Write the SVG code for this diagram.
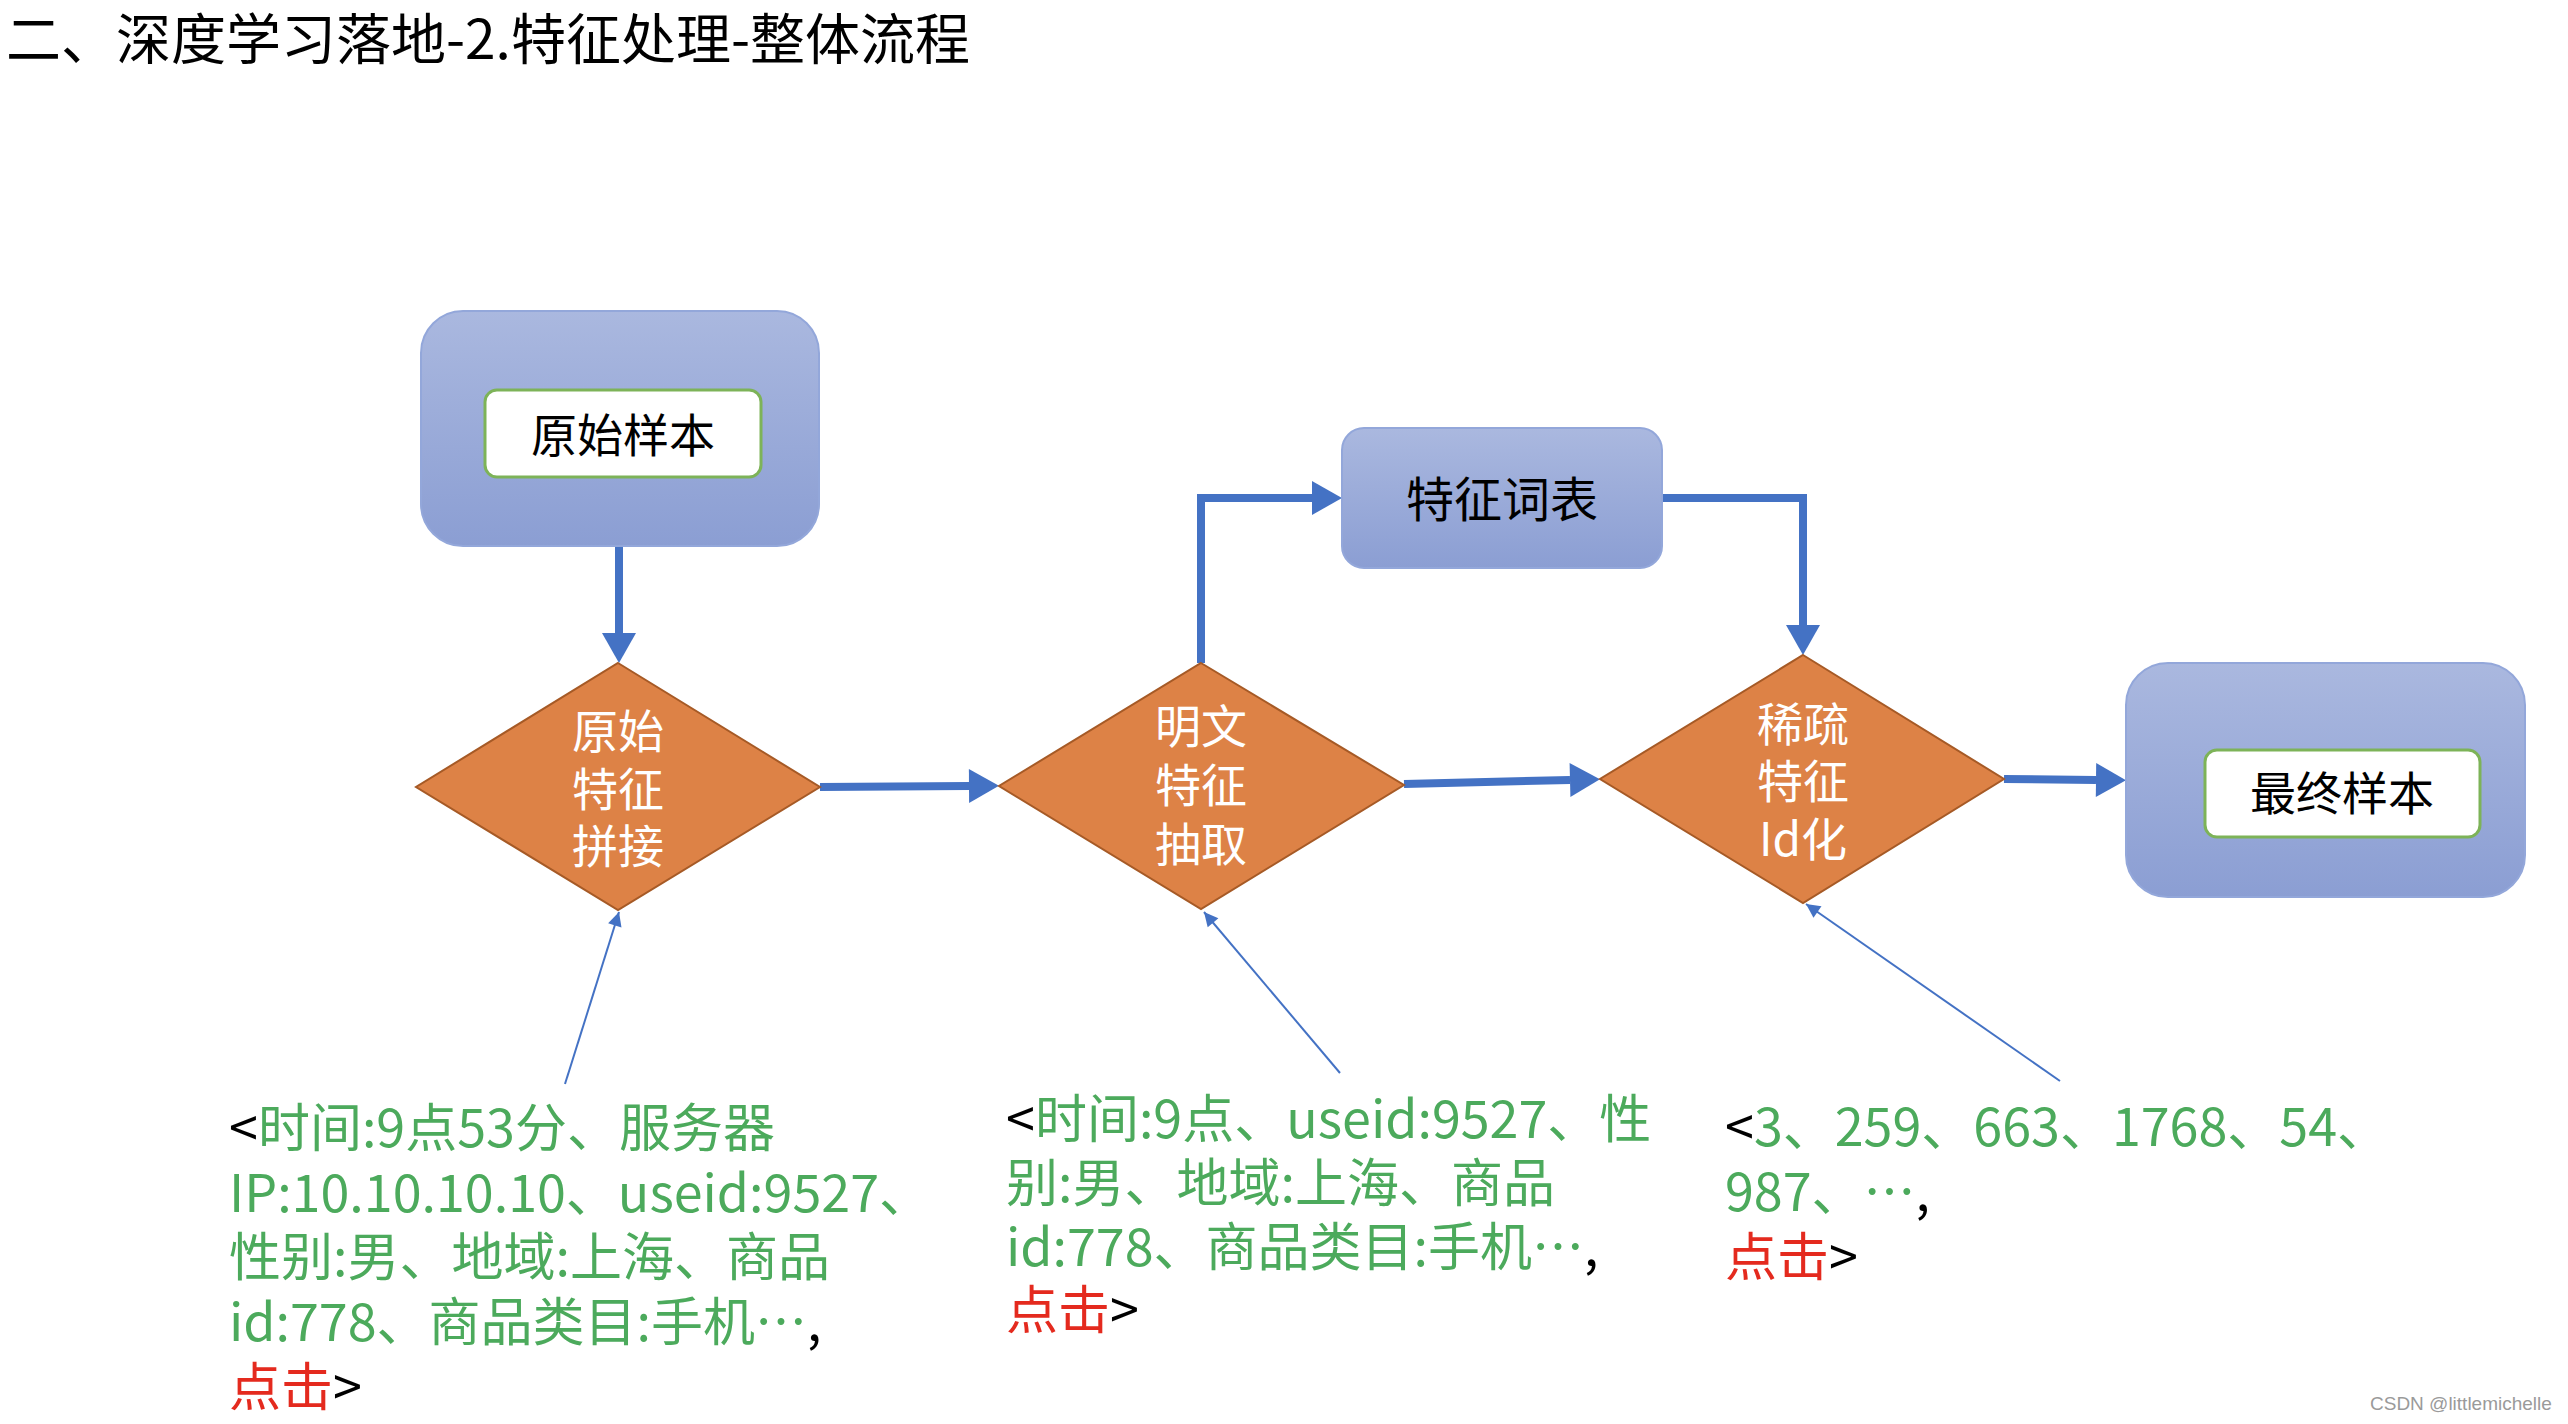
<svg xmlns="http://www.w3.org/2000/svg" width="2568" height="1424" viewBox="0 0 2568 1424">
<style>
text{font-family:"Noto Sans CJK SC","Noto Sans",sans-serif;}
.title{font-size:55px;fill:#000;}
.box{fill:url(#blueGrad);stroke:#93A7DA;stroke-width:2;}
.inner{fill:#fff;stroke:#7DB358;stroke-width:3;}
.dia{fill:#DD8246;stroke:#A65A26;stroke-width:2;}
.lbl{font-size:46px;fill:#000;text-anchor:middle;}
.dlbl{font-size:46px;fill:#fff;text-anchor:middle;}
.thick{fill:none;stroke:#4472C4;stroke-width:8;marker-end:url(#bigArrow);}
.thin{fill:none;stroke:#4472C4;stroke-width:2;marker-end:url(#smallArrow);}
.note{font-size:52px;fill:#000;}
.g{fill:#4CAA5C;}
.r{fill:#E42A1E;}
.wm{font-family:"Liberation Sans",Arial,sans-serif;font-size:19px;fill:#9A9A9A;}
</style>
<defs>
<linearGradient id="blueGrad" x1="0" y1="0" x2="0" y2="1">
<stop offset="0" stop-color="#AAB8DF"/>
<stop offset="1" stop-color="#8B9ED3"/>
</linearGradient>
<marker id="bigArrow" markerUnits="userSpaceOnUse" markerWidth="32" markerHeight="34" refX="0" refY="17" orient="auto" overflow="visible">
<path d="M0,0 L30,17 L0,34 z" fill="#4472C4"/>
</marker>
<marker id="smallArrow" markerUnits="userSpaceOnUse" markerWidth="16" markerHeight="14" refX="14" refY="7" orient="auto" overflow="visible">
<path d="M0,0 L14,7 L0,14 z" fill="#4472C4"/>
</marker>
</defs>
<rect width="2568" height="1424" fill="#fff"/>
<text class="title" x="6" y="59">二、深度学习落地-2.特征处理-整体流程</text>

<g id="connectors">
<path class="thick" d="M619,546 V633"/>
<path class="thick" d="M820,787 L969,786"/>
<path class="thick" d="M1201,663 V498 H1312"/>
<path class="thick" d="M1662,498 H1803 V625"/>
<path class="thick" d="M1404,784 L1570,780"/>
<path class="thick" d="M2004,779 L2096,780"/>
<path class="thin" d="M565,1084 L619,912"/>
<path class="thin" d="M1340,1073 L1204,912"/>
<path class="thin" d="M2060,1081 L1806,904"/>
</g>

<g id="node-raw-sample">
<rect class="box" x="421" y="311" width="398" height="235" rx="42"/>
<rect class="inner" x="485" y="390" width="276" height="87" rx="12"/>
<text class="lbl" x="623" y="452">原始样本</text>
</g>

<g id="node-concat">
<polygon class="dia" points="618,663 820,787 618,910 416,787"/>
<text class="dlbl" x="618" y="748">原始</text>
<text class="dlbl" x="618" y="806">特征</text>
<text class="dlbl" x="618" y="863">拼接</text>
</g>

<g id="node-extract">
<polygon class="dia" points="1201,663 1404,785 1201,909 999,786"/>
<text class="dlbl" x="1201" y="743">明文</text>
<text class="dlbl" x="1201" y="802">特征</text>
<text class="dlbl" x="1201" y="861">抽取</text>
</g>

<g id="node-vocab">
<rect class="box" x="1342" y="428" width="320" height="140" rx="22"/>
<text class="lbl" x="1502" y="517" style="font-size:48px">特征词表</text>
</g>

<g id="node-idize">
<polygon class="dia" points="1803,655 2004,779 1803,903 1600,779"/>
<text class="dlbl" x="1803" y="741">稀疏</text>
<text class="dlbl" x="1803" y="798">特征</text>
<text class="dlbl" x="1803" y="856">Id化</text>
</g>

<g id="node-final-sample">
<rect class="box" x="2126" y="663" width="399" height="234" rx="42"/>
<rect class="inner" x="2205" y="750" width="275" height="87" rx="12"/>
<text class="lbl" x="2342" y="810">最终样本</text>
</g>

<g id="note-raw">
<text class="note" x="229" y="1147">&lt;<tspan class="g">时间:9点53分、服务器</tspan></text>
<text class="note g" x="229" y="1212">IP:10.10.10.10、useid:9527、</text>
<text class="note g" x="229" y="1276">性别:男、地域:上海、商品</text>
<text class="note" x="229" y="1341"><tspan class="g">id:778、商品类目:手机…</tspan>,</text>
<text class="note" x="229" y="1406"><tspan class="r">点击</tspan>&gt;</text>
</g>

<g id="note-plain">
<text class="note" x="1006" y="1138">&lt;<tspan class="g">时间:9点、useid:9527、性</tspan></text>
<text class="note g" x="1006" y="1202">别:男、地域:上海、商品</text>
<text class="note" x="1006" y="1266"><tspan class="g">id:778、商品类目:手机…</tspan>,</text>
<text class="note" x="1006" y="1329"><tspan class="r">点击</tspan>&gt;</text>
</g>

<g id="note-ids">
<text class="note" x="1725" y="1146">&lt;<tspan class="g">3、259、663、1768、54、</tspan></text>
<text class="note" x="1725" y="1211"><tspan class="g">987、…</tspan>,</text>
<text class="note" x="1725" y="1276"><tspan class="r">点击</tspan>&gt;</text>
</g>

<text class="wm" x="2370" y="1410">CSDN @littlemichelle</text>
</svg>
